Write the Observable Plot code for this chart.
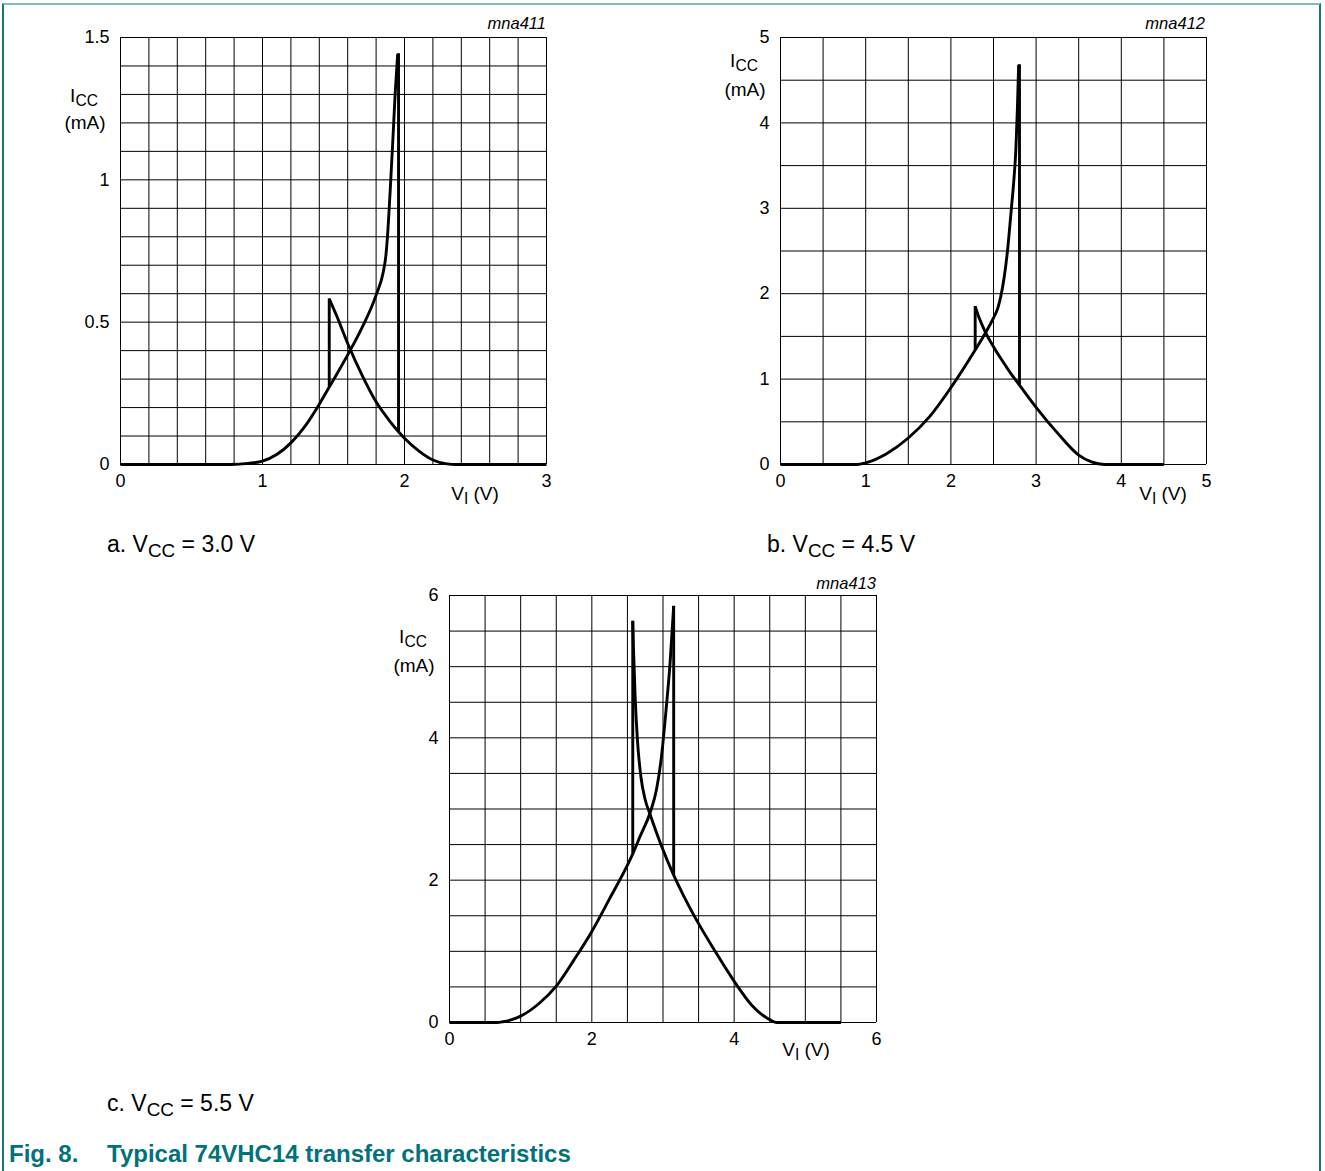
<!DOCTYPE html>
<html><head><meta charset="utf-8">
<script src="https://cdn.jsdelivr.net/npm/d3@7"></script>
<script src="https://cdn.jsdelivr.net/npm/@observablehq/plot@0.6"></script>
<style>
body{margin:0;background:#fff;font-family:"Liberation Sans",Arial,sans-serif;}
#wrap{position:relative;width:1325px;height:1171px;overflow:hidden;background:#fff;}
.abs{position:absolute;white-space:nowrap;color:#000;line-height:1;}
.c{transform:translate(-50%,-50%);}
.r{transform:translate(-100%,-50%);}
.l{transform:translate(0,-50%);}
.ax{font-size:19px;}
.sub{font-size:0.82em;position:relative;top:0.28em;}
.mna{font-size:16.5px;font-style:italic;}
.cap{font-size:23px;}
.fig{font-size:24px;font-weight:bold;color:#00727a;}
#frame{position:absolute;left:2px;top:3px;width:1319px;height:1200px;border:2px solid #16777e;border-top-color:#7fbcc0;box-sizing:border-box;}
</style></head><body><div id="wrap"><div id="frame"></div></div>
<script>
// ---------- Chart a: VCC = 3.0 V ----------
const aTicksX = [0, 1, 2, 3];
const aTicksY = [0, 0.5, 1, 1.5];
const aCurve1V = [0, 0.78, 0.9, 1.0, 1.1, 1.2, 1.3, 1.4, 1.47, 1.6, 1.7, 1.8, 1.852, 1.868, 1.88, 1.899, 1.918, 1.934, 1.952];
const aCurve1I = [0, 0, 0.004, 0.012, 0.035, 0.076, 0.135, 0.212, 0.272, 0.385, 0.48, 0.595, 0.68, 0.73, 0.8, 0.96, 1.14, 1.3, 1.443];
const aCurve2V = [1.47, 1.52, 1.6, 1.7, 1.8, 1.9, 1.958, 2.0, 2.1, 2.2, 2.3, 2.36, 3.0];
const aCurve2I = [0.582, 0.525, 0.425, 0.315, 0.22, 0.15, 0.115, 0.092, 0.048, 0.016, 0.002, 0, 0];
const aJumpV = [1.47, 1.958];
const aJumpLow = [0.272, 0.115];
const aJumpHigh = [0.582, 1.443];

// ---------- Chart b: VCC = 4.5 V ----------
const bTicksX = [0, 1, 2, 3, 4, 5];
const bTicksY = [0, 1, 2, 3, 4, 5];
const bCurve1V = [0, 0.9, 1.0, 1.25, 1.5, 1.75, 2.0, 2.285, 2.4, 2.5, 2.55, 2.586, 2.625, 2.664, 2.71, 2.735, 2.762, 2.78, 2.795];
const bCurve1I = [0, 0, 0.02, 0.13, 0.31, 0.56, 0.9, 1.34, 1.53, 1.716, 1.83, 1.97, 2.19, 2.5, 3.0, 3.28, 3.68, 4.15, 4.68];
const bCurve2V = [2.285, 2.33, 2.4, 2.5, 2.6, 2.7, 2.805, 3.0, 3.25, 3.5, 3.65, 3.8, 4.5];
const bCurve2I = [1.85, 1.72, 1.56, 1.38, 1.22, 1.07, 0.93, 0.67, 0.37, 0.11, 0.03, 0, 0];
const bJumpV = [2.285, 2.805];
const bJumpLow = [1.34, 0.93];
const bJumpHigh = [1.85, 4.68];

// ---------- Chart c: VCC = 5.5 V ----------
const cTicksX = [0, 2, 4, 6];
const cTicksY = [0, 2, 4, 6];
const cCurve1V = [0, 0.67, 0.75, 1.0, 1.25, 1.5, 1.75, 2.0, 2.25, 2.5, 2.575, 2.68, 2.82, 2.91, 2.98, 3.04, 3.1, 3.15];
const cCurve1I = [0, 0, 0.01, 0.09, 0.26, 0.51, 0.88, 1.28, 1.74, 2.21, 2.37, 2.62, 2.95, 3.28, 3.75, 4.36, 5.06, 5.85];
const cCurve2V = [2.575, 2.584, 2.608, 2.64, 2.69, 2.75, 2.82, 2.96, 3.15, 3.29, 3.46, 3.74, 4.02, 4.25, 4.5, 4.6, 5.5];
const cCurve2I = [5.64, 5.29, 4.59, 3.98, 3.45, 3.13, 2.92, 2.53, 2.07, 1.78, 1.46, 0.99, 0.55, 0.24, 0.04, 0, 0];
const cJumpV = [2.575, 3.15];
const cJumpLow = [2.37, 2.07];
const cJumpHigh = [5.64, 5.85];

function zip(v, i) { return v.map((x, k) => ({v: x, i: i[k]})); }

function chart(o) {
  const c1 = zip(o.c1V, o.c1I);
  const c2 = zip(o.c2V, o.c2I);
  const jumps = o.jV.map((x, k) => ({v: x, lo: o.jLo[k], hi: o.jHi[k]}));
  const gridX = d3.range(0, o.xMax + 1e-9, o.gx);
  const gridY = d3.range(0, o.yMax + 1e-9, o.gy);
  const svg = Plot.plot({
    width: 560, height: 510,
    marginLeft: 120, marginTop: 37, marginRight: o.mr, marginBottom: o.mb,
    x: {domain: [0, o.xMax], ticks: o.ticksX, tickSize: 0, tickPadding: 10, tickFormat: d => String(d), label: null},
    y: {domain: [0, o.yMax], ticks: o.ticksY, tickSize: 0, tickPadding: 11, tickFormat: d => String(d), label: null},
    style: {fontSize: "18px", fontFamily: "Liberation Sans, Arial, sans-serif", color: "#000", background: "transparent", overflow: "visible"},
    marks: [
      Plot.ruleX(gridX, {stroke: "#000", strokeWidth: 1}),
      Plot.ruleY(gridY, {stroke: "#000", strokeWidth: 1}),
      Plot.line(c1, {x: "v", y: "i", curve: "monotone-x", stroke: "#000", strokeWidth: 2.9, strokeLinecap: "butt", strokeLinejoin: "round"}),
      Plot.line(c2, {x: "v", y: "i", curve: "monotone-x", stroke: "#000", strokeWidth: 2.9, strokeLinecap: "butt", strokeLinejoin: "round"}),
      Plot.ruleX(jumps, {x: "v", y1: "lo", y2: "hi", stroke: "#000", strokeWidth: 2.9})
    ]
  });
  svg.style.position = "absolute";
  svg.style.left = o.left + "px";
  svg.style.top = o.top + "px";
  return svg;
}

const wrap = document.getElementById("wrap");
wrap.appendChild(chart({left: 0, top: 0, mr: 14, mb: 46, xMax: 3, yMax: 1.5, gx: 0.2, gy: 0.1,
  ticksX: aTicksX, ticksY: aTicksY, c1V: aCurve1V, c1I: aCurve1I, c2V: aCurve2V, c2I: aCurve2I, jV: aJumpV, jLo: aJumpLow, jHi: aJumpHigh}));
wrap.appendChild(chart({left: 660, top: 0, mr: 14, mb: 46, xMax: 5, yMax: 5, gx: 0.5, gy: 0.5,
  ticksX: bTicksX, ticksY: bTicksY, c1V: bCurve1V, c1I: bCurve1I, c2V: bCurve2V, c2I: bCurve2I, jV: bJumpV, jLo: bJumpLow, jHi: bJumpHigh}));
wrap.appendChild(chart({left: 329, top: 558, mr: 13, mb: 46, xMax: 6, yMax: 6, gx: 0.5, gy: 0.5,
  ticksX: cTicksX, ticksY: cTicksY, c1V: cCurve1V, c1I: cCurve1I, c2V: cCurve2V, c2I: cCurve2I, jV: cJumpV, jLo: cJumpLow, jHi: cJumpHigh}));

function label(html, x, y, cls) {
  const d = document.createElement("div");
  d.className = "abs " + cls;
  d.style.left = x + "px";
  d.style.top = y + "px";
  d.innerHTML = html;
  wrap.appendChild(d);
}
const icc = 'I<span class="sub">CC</span>';
const vi = 'V<span class="sub">I</span> (V)';
// chart a
label(icc, 84, 95, "ax c");
label("(mA)", 85, 122, "ax c");
label(vi, 475, 493, "ax c");
label("mna411", 546, 23, "mna r");
// chart b
label(icc, 744, 60, "ax c");
label("(mA)", 745, 89, "ax c");
label(vi, 1163, 493, "ax c");
label("mna412", 1205, 23, "mna r");
// chart c
label(icc, 413, 636, "ax c");
label("(mA)", 414, 665, "ax c");
label(vi, 806, 1049, "ax c");
label("mna413", 876, 583, "mna r");
// captions
label('a. V<span class="sub">CC</span> = 3.0 V', 107, 544, "cap l");
label('b. V<span class="sub">CC</span> = 4.5 V', 767, 544, "cap l");
label('c. V<span class="sub">CC</span> = 5.5 V', 107, 1103, "cap l");
label('Fig. 8.', 9, 1154, "fig l");
label('Typical 74VHC14 transfer characteristics', 107, 1154, "fig l");
</script>
</body></html>
